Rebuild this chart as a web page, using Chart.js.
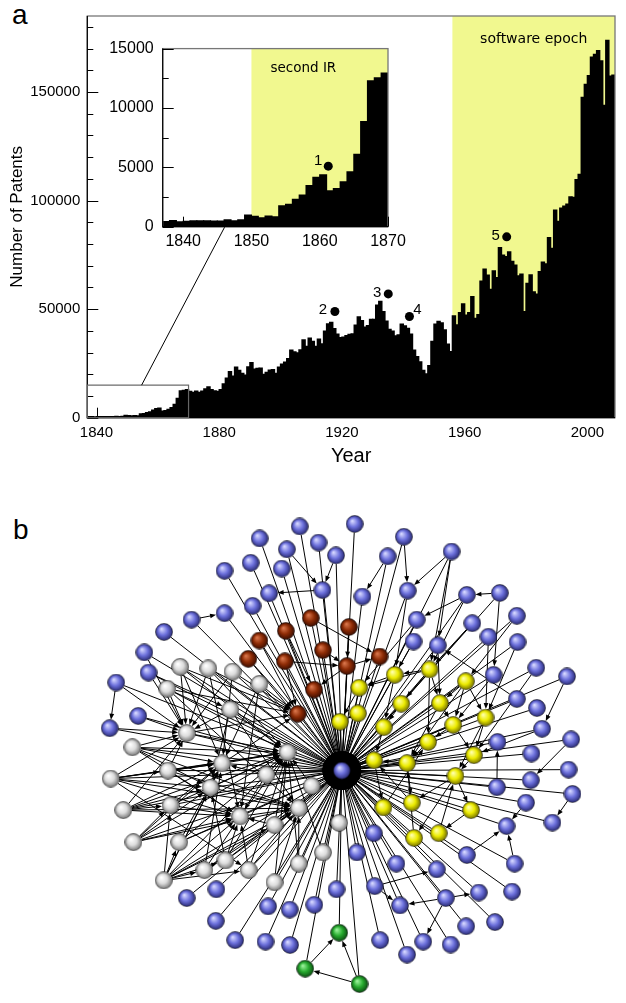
<!DOCTYPE html>
<html>
<head>
<meta charset="utf-8">
<script src="https://cdn.jsdelivr.net/npm/chart.js@4.4.0/dist/chart.umd.min.js"></script>
<style>
  body { margin: 0; background: #fff; width: 626px; height: 1003px; position: relative; overflow: hidden;
         font-family: "Liberation Sans", Arial, sans-serif; }
  canvas { position: absolute; }
  .panel { position: absolute; font-size: 28px; color: #000; line-height: 1; }
</style>
</head>
<body>
<div class="panel" style="left:12px;top:1px">a</div>
<div class="panel" style="left:13px;top:516px">b</div>
<canvas id="main" width="626" height="475" style="left:0;top:0"></canvas>
<canvas id="inset" width="330" height="230" style="left:100px;top:30px;z-index:2"></canvas>
<canvas id="net" width="626" height="523" style="left:0;top:480px"></canvas>
<script>
// ================= panel a : patents granted per year =================
var firstYear = 1837;
// one value per year, 1837 ... 2008
var patents = [
  430, 510, 400, 460, 490, 490, 490, 480, 470, 570, 500, 580, 980,
  880, 750, 890, 840, 1760, 1880, 2300, 2670, 3460, 4160,
  4360, 3020, 3210, 3770, 4630, 6090, 8860, 12280, 12530, 12930,
  12140, 11660, 12180, 11620, 12230, 13290, 14170, 12920, 12350, 12130,
  12900, 15550, 18140, 21160, 19120, 23290, 21770, 20400, 19550, 23320,
  25310, 22330, 22660, 22770, 19880, 20860, 21870, 22100, 20400, 23280,
  24640, 25550, 27140, 31030, 30260, 29780, 31170, 35860, 32760, 36570,
  35140, 32860, 36200, 33920, 39890, 43120, 43890, 40940, 38450, 36800,
  37060, 37800, 38370, 38620, 42570, 46430, 44730, 41720, 42360, 45270,
  45230, 51760, 53500, 48770, 44420, 40620, 39830, 37680, 38060, 43070,
  42240, 41110, 38510, 31070, 28050, 25700, 21800, 20140, 23960, 35130,
  43040, 44330, 43620, 40470, 33810, 30430, 46820, 42740, 48330, 52410,
  47170, 48370, 55690, 45680, 47380, 62860, 68410, 65650, 59100, 67560,
  64430, 78320, 74810, 74140, 76280, 72000, 70230, 65270, 66100, 48850,
  61820, 65770, 57890, 56860, 67200, 71660, 70860, 82950, 77920, 95540,
  90370, 96510, 97440, 98340, 101680, 101420, 109650, 111980, 147520, 153490,
  157490, 166040, 167330, 169020, 164290, 143810, 173770, 157280, 157770
];
var years = patents.map(function (v, i) { return firstYear + i; });

var mainYearTicks = [1840, 1880, 1920, 1960, 2000];
var insetYearTicks = [1840, 1850, 1860, 1870];
var softwareEpochStart = 1956;
var secondIRStart = 1850;
var insetLastYear = 1869;   // inset shows 1837-1869
var insetTop = 15000;

// numbered events (year, patents)
var mainMarkNames = ['2', '3', '4', '5'];
var mainMarkYears = [1917.7, 1935.1, 1942.0, 1973.7];
var mainMarkValues = [48900, 57000, 46600, 83300];
var insetMarkNames = ['1'];
var insetMarkYears = [1861.25];
var insetMarkValues = [5100];

var shade = 'rgb(241, 248, 143)';
Chart.defaults.font.family = '"Liberation Sans", Arial, sans-serif';
Chart.defaults.color = '#000';

function tickList(from, to, step) {
  var out = [];
  for (var v = from; v <= to; v += step) out.push({ value: v });
  return out;
}

// shading, frame, inner ticks, numbered labels
var panelA = {
  id: 'panelA',
  beforeDatasetsDraw: function (chart, args, o) {
    var ctx = chart.ctx, a = chart.chartArea, x = chart.scales.x;
    var x0 = x.getPixelForValue(o.shadeFrom);
    ctx.save();
    ctx.fillStyle = shade;
    ctx.fillRect(x0, a.top, a.right - x0, a.bottom - a.top);
    ctx.fillStyle = '#000';
    ctx.font = o.textSize + 'px "DejaVu Sans"';
    ctx.textAlign = 'center';
    ctx.textBaseline = 'middle';
    ctx.fillText(o.text, x.getPixelForValue(o.textYear), a.top + o.textDy);
    ctx.restore();
  },
  afterDatasetsDraw: function (chart, args, o) {
    var ctx = chart.ctx, a = chart.chartArea, x = chart.scales.x, y = chart.scales.y;
    ctx.save();
    // frame
    ctx.strokeStyle = '#777';
    ctx.lineWidth = 1.3;
    ctx.strokeRect(a.left, a.top, a.right - a.left, a.bottom - a.top);
    ctx.strokeStyle = '#000';
    ctx.lineWidth = 1.2;
    ctx.beginPath();
    ctx.moveTo(a.left, a.top); ctx.lineTo(a.left, a.bottom); ctx.lineTo(a.right, a.bottom);
    ctx.stroke();
    // inner ticks
    ctx.lineWidth = 1;
    ctx.beginPath();
    y.ticks.forEach(function (t) {
      var py = Math.round(y.getPixelForValue(t.value)) + 0.5;
      var len = t.value % o.yMajor === 0 ? 11 : 6;
      ctx.moveTo(a.left, py); ctx.lineTo(a.left + len, py);
    });
    x.ticks.forEach(function (t) {
      var px = Math.round(x.getPixelForValue(t.value)) + 0.5;
      ctx.moveTo(px, a.bottom); ctx.lineTo(px, a.bottom - 10);
    });
    ctx.stroke();
    // numbered events
    ctx.fillStyle = '#000';
    ctx.font = '15px "Liberation Sans"';
    ctx.textAlign = 'center';
    ctx.textBaseline = 'middle';
    o.names.forEach(function (n, i) {
      var px = x.getPixelForValue(o.markYears[i]), py = y.getPixelForValue(o.markValues[i]);
      ctx.fillText(n, px + o.labelOffsets[i][0], py + o.labelOffsets[i][1]);
    });
    // zoom box + connector to the inset
    if (o.zoomBox && window.insetChart) {
      var bx0 = x.getPixelForValue(firstYear), bx1 = x.getPixelForValue(insetLastYear + 1);
      var by0 = y.getPixelForValue(insetTop), by1 = y.getPixelForValue(0);
      ctx.strokeStyle = '#666';
      ctx.lineWidth = 1.2;
      ctx.strokeRect(bx0, by0, bx1 - bx0, by1 - by0);
      var ic = window.insetChart;
      var ix = ic.canvas.offsetLeft - chart.canvas.offsetLeft + ic.scales.x.getPixelForValue(o.linkInsetYear);
      var iy = ic.canvas.offsetTop - chart.canvas.offsetTop + ic.scales.y.getPixelForValue(0);
      ctx.strokeStyle = '#000';
      ctx.lineWidth = 1;
      ctx.beginPath();
      ctx.moveTo(x.getPixelForValue(o.linkMainYear), by0);
      ctx.lineTo(ix, iy);
      ctx.stroke();
    }
    ctx.restore();
  }
};

function histogram(lastYear) {
  var pts = [];
  years.forEach(function (yr, i) {
    if (yr <= lastYear) pts.push({ x: yr + 0.5, y: patents[i] });
  });
  return pts;
}

function marks(yrs, vals) {
  return yrs.map(function (yr, i) { return { x: yr, y: vals[i] }; });
}

// ---------- inset 1837-1869 ----------
window.insetChart = new Chart(document.getElementById('inset'), {
  type: 'bar',
  data: {
    datasets: [
      { type: 'scatter', data: marks(insetMarkYears, insetMarkValues), pointRadius: 4.5,
        backgroundColor: '#000', borderWidth: 0 },
      { data: histogram(insetLastYear), backgroundColor: '#000', borderWidth: 0,
        barPercentage: 1, categoryPercentage: 1, inflateAmount: 0.6 }
    ]
  },
  options: {
    responsive: false, animation: false,
    layout: { padding: { top: 13.3, right: 42, left: 0, bottom: 0 } },
    plugins: {
      legend: { display: false }, tooltip: { enabled: false },
      panelA: { shadeFrom: secondIRStart, text: 'second IR', textSize: 13.5, textYear: 1857.6, textDy: 20,
                yMajor: 5000, names: insetMarkNames, markYears: insetMarkYears, markValues: insetMarkValues,
                labelOffsets: [[-10, -5]], zoomBox: false }
    },
    scales: {
      x: { type: 'linear', min: firstYear, max: insetLastYear + 1, offset: false,
           grid: { display: false, drawTicks: false, offset: false }, border: { display: false },
           afterBuildTicks: function (s) { s.ticks = insetYearTicks.map(function (v) { return { value: v }; }); },
           ticks: { autoSkip: false, maxRotation: 0, padding: 5, font: { size: 16 },
                    callback: function (v) { return String(v); } },
           afterFit: function (s) { s.height = 33.3; } },
      y: { min: 0, max: insetTop, grid: { display: false, drawTicks: false }, border: { display: false },
           afterBuildTicks: function (s) { s.ticks = tickList(0, insetTop, 2500); },
           ticks: { autoSkip: false, padding: 9, font: { size: 16 },
                    callback: function (v) { return v % 5000 === 0 ? String(v) : ''; } },
           afterFit: function (s) { s.width = 62.7; } }
    }
  },
  plugins: [panelA]
});

// ---------- main histogram ----------
var mainChart = new Chart(document.getElementById('main'), {
  type: 'bar',
  data: {
    datasets: [
      { type: 'scatter', data: marks(mainMarkYears, mainMarkValues), pointRadius: 4.5,
        backgroundColor: '#000', borderWidth: 0 },
      { data: histogram(2008), backgroundColor: '#000', borderWidth: 0,
        barPercentage: 1, categoryPercentage: 1, inflateAmount: 0.7 }
    ]
  },
  options: {
    responsive: false, animation: false,
    layout: { padding: { top: 16, right: 11, left: 0, bottom: 0 } },
    plugins: {
      legend: { display: false }, tooltip: { enabled: false },
      panelA: { shadeFrom: softwareEpochStart, text: 'software epoch', textSize: 14, textYear: 1982.5, textDy: 23,
                yMajor: 50000, names: mainMarkNames, markYears: mainMarkYears, markValues: mainMarkValues,
                labelOffsets: [[-12, -2], [-11, -1], [8, -7], [-11, -1]],
                zoomBox: true, linkMainYear: 1854.7, linkInsetYear: 1846.1 }
    },
    scales: {
      x: { type: 'linear', min: firstYear, max: 2009, offset: false,
           grid: { display: false, drawTicks: false, offset: false }, border: { display: false },
           afterBuildTicks: function (s) { s.ticks = mainYearTicks.map(function (v) { return { value: v }; }); },
           ticks: { autoSkip: false, maxRotation: 0, padding: 6, font: { size: 15 },
                    callback: function (v) { return String(v); } },
           title: { display: true, text: 'Year', font: { size: 20 }, padding: { top: 0, bottom: 7 } },
           afterFit: function (s) { s.height = 57.3; } },
      y: { min: 0, max: 185000, grid: { display: false, drawTicks: false }, border: { display: false },
           afterBuildTicks: function (s) { s.ticks = tickList(0, 180000, 10000); },
           ticks: { autoSkip: false, padding: 7, font: { size: 15 },
                    callback: function (v) { return v % 50000 === 0 ? String(v) : ''; } },
           title: { display: true, text: 'Number of Patents', font: { size: 17 }, padding: { top: 7, bottom: 0 } },
           afterFit: function (s) { s.width = 87.3; } }
    }
  },
  plugins: [panelA]
});

// ================= panel b : citation network =================
var hubNode = [342.7, 771.7];
// blue nodes, numbered 1..77 in the link list
var blueNodes = [
  [299.3, 518.3], [258, 530.7], [318.7, 535], [286, 542], [336.7, 548.3], [248.7, 556], [280.7, 562],
  [221.7, 564.3], [322.7, 584.3], [267.7, 587.7], [250.7, 600.7], [221.7, 608.3], [187.7, 615],
  [159.3, 627.7], [139, 649], [143.3, 670], [110, 680.3], [132.7, 715], [103.3, 727.7],
  [356, 515.7], [406.7, 529], [390, 549.3], [456, 544.3], [364, 591], [410.7, 585], [471.7, 589.3],
  [505.7, 587.3], [420, 615], [477.3, 618.7], [523.3, 611], [416.7, 637.7], [441.7, 641.7],
  [494, 632.7], [524, 638.3], [499.3, 672.3], [543.3, 665], [575, 674], [523.3, 697.3], [544, 706.7],
  [549.3, 728.3], [579.3, 739.3], [503.3, 742],
  [538.3, 754], [576.7, 770.7], [502.7, 789], [537.7, 781.7], [532.7, 805], [580.7, 796],
  [512.7, 829.3], [560, 825.7], [375.7, 836.7], [358.3, 856.7], [399, 868.3], [471.7, 859.3],
  [521, 868.3], [440.7, 874.3], [376.7, 891.7], [337.3, 895], [402.7, 911.7], [450, 904],
  [484, 898.3], [518.3, 897.3], [471, 933.3], [500.7, 929], [382.3, 947.7], [426.7, 949.3],
  [455, 952.3], [410, 962.7],
  [182.7, 904], [213.3, 895], [212.7, 927.7], [266.7, 912.7], [289, 916], [314.3, 911],
  [232.7, 947.7], [264, 949.3], [289.3, 952.7]
];
var brownNodes = [
  [310.7, 613.3], [350, 622.7], [285, 626.7], [257.7, 636.7], [323.3, 646.7], [246.3, 655.7],
  [284, 658.3], [348, 663.3], [381.7, 653.3], [314, 687.7], [297.3, 712.7]
];
var whiteNodes = [
  [176, 664], [205, 665.7], [230, 669], [162.7, 686.7], [257.7, 681.7], [227.7, 708.3], [182.7, 732.7],
  [126.7, 747.5], [163.3, 771.7], [219.3, 764.3], [286.7, 752.7], [265, 776], [104.3, 780],
  [207.3, 789.3], [311.7, 787.7], [117.3, 812.7], [166, 807.7], [237.7, 819.3], [298.3, 810.7],
  [273.3, 828.3], [127.7, 846], [175, 846], [222.7, 865], [201, 875], [246.7, 875], [323.3, 856.7],
  [298.3, 868.3], [159, 885.7], [273.3, 887.7], [340, 826]
];
var yellowNodes = [
  [433.3, 666.7], [397.3, 672.3], [470.7, 679], [360.7, 685.7], [404, 702.3], [444, 701.7],
  [359.3, 712.3], [491, 716.7], [340.7, 721], [386, 726.7], [457.7, 724.3], [431.7, 742],
  [479, 755.7], [376, 761], [410, 764], [460, 777.3], [385.7, 810], [415, 805], [476, 812.7],
  [417.3, 841.7], [442.7, 836.7]
];
var greenNodes = [[340, 940], [305, 977.3], [361, 993.3]];

// every node cites the hub; extra directed links (b = blue 1-based, B brown, W white, Y yellow, G green)
var links = [
  'b13>b12', 'b9>b10', 'b4>b9', 'b5>b9', 'b22>b24', 'b21>b25', 'b23>b25', 'b23>b32', 'b27>b26',
  'b26>b28', 'b27>b35', 'b37>b40', 'b17>b19', 'b38>b32', 'b47>b49', 'b55>b49', 'b54>b49',
  'b48>b50', 'b41>b46', 'b45>b42', 'b57>b56', 'b57>b59', 'b60>b59', 'b60>b61', 'b60>b66',
  'b15>W6', 'b16>W6', 'b17>W6', 'b18>W6', 'b19>W6', 'b16>W5',
  'b23>Y0', 'b30>Y2', 'b29>Y0', 'b33>Y7', 'b34>Y7', 'b36>Y12', 'b25>Y1', 'b31>Y1', 'b32>Y5',
  'b35>Y10', 'b28>Y3', 'b26>Y0', 'b40>Y12',
  'B0>B8', 'B6>B7', 'B4>B7', 'B7>B8', 'B7>B9', 'B2>B9', 'B3>B10', 'B5>B10', 'B6>B10', 'B1>B7',
  'W0>W6', 'W0>B10', 'W0>W10', 'W0>W9', 'W1>W6', 'W1>B10', 'W1>W10', 'W1>W17',
  'W2>W6', 'W2>B10', 'W2>W9', 'W3>W6', 'W3>W10', 'W3>W18', 'W3>B10', 'W4>W9', 'W4>W17', 'W4>B10',
  'W5>W6', 'W5>W13', 'W5>W18', 'W5>W10', 'W7>W6', 'W7>W10', 'W7>W9', 'W7>W18', 'W7>W17', 'W7>W13',
  'W8>W6', 'W8>W10', 'W8>W17', 'W8>W18', 'W8>W9', 'W11>W9', 'W11>W17', 'W11>W10',
  'W12>W6', 'W12>W9', 'W12>W10', 'W12>W13', 'W12>W17', 'W12>W18', 'W12>W24', 'W12>W8',
  'W13>W10', 'W13>W18', 'W13>W9', 'W14>W10',
  'W15>W9', 'W15>W13', 'W15>W10', 'W15>W17', 'W15>W18', 'W15>W6', 'W15>W16',
  'W16>W9', 'W16>W10', 'W16>W17', 'W19>W10', 'W19>W17',
  'W20>W9', 'W20>W13', 'W20>W17', 'W20>W18', 'W20>W10', 'W20>W16',
  'W21>W9', 'W21>W17', 'W21>W10', 'W22>W17', 'W22>W18', 'W22>W10', 'W22>W13',
  'W23>W17', 'W23>W9', 'W23>W18', 'W24>W18', 'W24>W17', 'W24>W10', 'W26>W18', 'W26>W10',
  'W27>W13', 'W27>W16', 'W27>W17', 'W27>W18', 'W27>W9', 'W27>W10', 'W27>W19', 'W27>W24',
  'W27>W23', 'W27>W21', 'W27>W22', 'W28>W18', 'W28>W10', 'W25>W10', 'W17>W10', 'W17>W18',
  'W9>W10', 'W9>B10', 'W6>W10', 'W6>B10',
  'Y0>Y1', 'Y0>Y5', 'Y0>Y11', 'Y0>Y4', 'Y2>Y10', 'Y2>Y7', 'Y2>Y5', 'Y1>Y3', 'Y3>Y8', 'Y4>Y9',
  'Y5>Y10', 'Y6>Y8', 'Y7>Y12', 'Y9>Y13', 'Y10>Y11', 'Y10>Y12', 'Y11>Y14', 'Y12>Y15', 'Y13>Y16',
  'Y14>Y17', 'Y15>Y17', 'Y15>Y18', 'Y15>Y19', 'Y20>Y15', 'Y16>Y11', 'Y17>Y13', 'Y18>Y20',
  'Y19>Y14', 'Y14>Y13', 'Y0>Y3', 'Y2>Y14', 'Y7>Y15', 'Y5>Y14', 'Y1>Y9',
  'G2>G0', 'G2>G1', 'G1>G0'
];

function nodeOf(key) {
  var k = key.charAt(0), n = parseInt(key.slice(1), 10);
  if (k === 'b') return blueNodes[n - 1];
  if (k === 'B') return brownNodes[n];
  if (k === 'W') return whiteNodes[n];
  if (k === 'Y') return yellowNodes[n];
  return greenNodes[n];
}

var nodeR = 8.6;

function ball(c1, c2, c3) {
  var cv = document.createElement('canvas');
  cv.width = cv.height = 18;
  var g = cv.getContext('2d');
  var grd = g.createRadialGradient(6.5, 6, 0.5, 9, 9, 9);
  grd.addColorStop(0, c1);
  grd.addColorStop(0.5, c2);
  grd.addColorStop(1, c3);
  g.fillStyle = grd;
  g.beginPath();
  g.arc(9, 9, 8.5, 0, Math.PI * 2);
  g.fill();
  g.strokeStyle = 'rgba(0,0,0,0.6)';
  g.lineWidth = 0.8;
  g.stroke();
  return cv;
}
var balls = {
  blue: ball('#d4d6ff', '#6c70dc', '#23246a'),
  brown: ball('#d8744a', '#8e2c06', '#330a00'),
  white: ball('#ffffff', '#dcdcdc', '#6c6c6c'),
  yellow: ball('#ffffa8', '#eceb00', '#6a6600'),
  green: ball('#9af29a', '#26aa2e', '#0a4410')
};

// line from p to q; arrow tip stops `tipGap` px before q's centre
function arrow(ctx, p, q, head, hw, tipGap) {
  var dx = q[0] - p[0], dy = q[1] - p[1], L = Math.hypot(dx, dy);
  var ux = dx / L, uy = dy / L;
  var sx = p[0] + ux * nodeR, sy = p[1] + uy * nodeR;
  var ex = q[0] - ux * tipGap, ey = q[1] - uy * tipGap;
  ctx.beginPath();
  ctx.moveTo(sx, sy);
  ctx.lineTo(ex - ux * head * 0.6, ey - uy * head * 0.6);
  ctx.stroke();
  ctx.beginPath();
  ctx.moveTo(ex, ey);
  ctx.lineTo(ex - ux * head - uy * hw, ey - uy * head + ux * hw);
  ctx.lineTo(ex - ux * head + uy * hw, ey - uy * head - ux * hw);
  ctx.closePath();
  ctx.fill();
}

var edgePlugin = {
  id: 'edges',
  beforeDatasetsDraw: function (chart) {
    var ctx = chart.ctx, x = chart.scales.x, y = chart.scales.y;
    function px(n) { return [x.getPixelForValue(n[0]), y.getPixelForValue(n[1])]; }
    var hub = px(hubNode);
    ctx.save();
    ctx.strokeStyle = '#000';
    ctx.fillStyle = '#000';
    ctx.lineWidth = 1;
    [blueNodes, brownNodes, whiteNodes, yellowNodes, greenNodes].forEach(function (group) {
      group.forEach(function (n) { arrow(ctx, px(n), hub, 19, 3.4, 0); });
    });
    links.forEach(function (l) {
      var ab = l.split('>');
      arrow(ctx, px(nodeOf(ab[0])), px(nodeOf(ab[1])), 6, 2.4, nodeR);
    });
    ctx.restore();
  }
};

function pts(list) { return list.map(function (n) { return { x: n[0], y: n[1] }; }); }

new Chart(document.getElementById('net'), {
  type: 'scatter',
  data: {
    datasets: [
      { data: pts([hubNode]), pointStyle: balls.blue },
      { data: pts(blueNodes), pointStyle: balls.blue },
      { data: pts(brownNodes), pointStyle: balls.brown },
      { data: pts(whiteNodes), pointStyle: balls.white },
      { data: pts(yellowNodes), pointStyle: balls.yellow },
      { data: pts(greenNodes), pointStyle: balls.green }
    ]
  },
  options: {
    responsive: false, animation: false,
    layout: { padding: 0 },
    elements: { point: { radius: nodeR, hoverRadius: nodeR } },
    plugins: { legend: { display: false }, tooltip: { enabled: false } },
    scales: {
      x: { display: false, min: 0, max: 626 },
      y: { display: false, min: 480, max: 1003, reverse: true }
    }
  },
  plugins: [edgePlugin]
});
</script>
</body>
</html>
